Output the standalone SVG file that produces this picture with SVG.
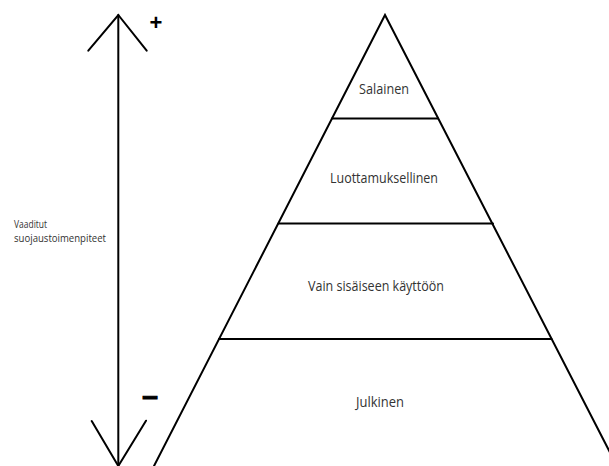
<svg xmlns="http://www.w3.org/2000/svg" width="609" height="466" viewBox="0 0 609 466">
<style>
.ln{stroke:#000;stroke-width:2;fill:none;stroke-linecap:round}
.lbl{font-family:"Open Sans","Noto Sans",sans-serif;fill:#333;text-anchor:middle;font-size:14px}
.side{font-family:"Open Sans","Noto Sans",sans-serif;fill:#333;font-size:10px}
.sym{font-family:"Liberation Sans",Arial,sans-serif;fill:#000;font-weight:bold;text-anchor:middle}
</style>
<rect width="609" height="466" fill="#fff"/>
<g id="connectors">
<line class="ln" x1="118.3" y1="15" x2="118.3" y2="466"/>
<polyline class="ln" points="88.3,50.7 118.3,15 146.7,50.7"/>
<polyline class="ln" points="91.7,421 118.3,466 146,420.7"/>
</g>
<g id="pyramid">
<polyline class="ln" points="154,466 385,15 617,466"/>
</g>
<g id="salainen">
<line class="ln" x1="332" y1="118.5" x2="438" y2="118.5"/>
<text class="lbl" x="384" y="94.3" textLength="50" lengthAdjust="spacingAndGlyphs">Salainen</text>
</g>
<g id="luottamuksellinen">
<line class="ln" x1="278.5" y1="223.5" x2="493" y2="223.5"/>
<text class="lbl" x="384" y="182.7" textLength="108" lengthAdjust="spacingAndGlyphs">Luottamuksellinen</text>
</g>
<g id="vain">
<line class="ln" x1="219" y1="339" x2="551.5" y2="339"/>
<text class="lbl" x="376" y="290.7" textLength="136" lengthAdjust="spacingAndGlyphs">Vain sisäiseen käyttöön</text>
</g>
<g id="julkinen">
<text class="lbl" x="380" y="406.7" textLength="48" lengthAdjust="spacingAndGlyphs">Julkinen</text>
</g>
<g id="axis-label">
<text class="side" x="14" y="228.3" textLength="33" lengthAdjust="spacingAndGlyphs">Vaaditut</text>
<text class="side" x="14" y="241.7" textLength="92" lengthAdjust="spacingAndGlyphs">suojaustoimenpiteet</text>
</g>
<g id="plus">
<text class="sym" x="156" y="30" font-size="22">+</text>
</g>
<g id="minus">
<text class="sym" x="150" y="405" font-size="28" stroke="#000" stroke-width="1.2">–</text>
</g>
</svg>
